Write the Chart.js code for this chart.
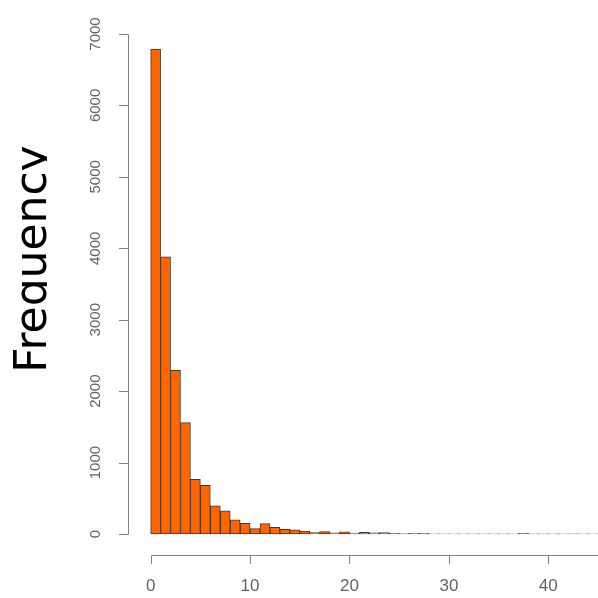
<!DOCTYPE html>
<html>
<head>
<meta charset="utf-8">
<script src="https://cdn.jsdelivr.net/npm/chart.js@4"></script>
<style>
  html, body { margin: 0; padding: 0; background: #fff; }
  #wrap { width: 598px; height: 598px; }
</style>
</head>
<body>
<div id="wrap"><canvas id="myChart" width="598" height="598"></canvas></div>
<script>
// histogram bins (left edge, width 1) and their counts
const bins = [0,1,2,3,4,5,6,7,8,9,10,11,12,13,14,15,16,17,18,19,20,21,22,23,24,25,26,27,28,29,30,31,32,33,34,35,36,37,38,39,40,41,42,43,44];
const counts = [6790,3880,2290,1560,765,680,395,325,200,150,75,145,95,65,60,42,20,35,18,32,12,22,18,20,8,5,10,8,4,3,3,2,3,2,2,3,2,8,4,2,2,2,1,2,3];
const xTicks = [0,10,20,30,40];
const yTicks = [0,1000,2000,3000,4000,5000,6000,7000];
const yTitle = 'Frequency';

const ctx = document.getElementById('myChart').getContext('2d');

// R style axes drawn from the chart's own scales
const rAxes = {
    id: 'rAxes',
    afterDraw(chart) {
        const c = chart.ctx;
        const x = chart.scales.x;
        const y = chart.scales.y;
        const axisX = 128;   // y axis line position
        const axisY = 555;   // x axis line position

        c.save();
        c.strokeStyle = '#808080';
        c.lineWidth = 1;

        // y axis
        const yTop = Math.round(y.getPixelForValue(yTicks[yTicks.length - 1]));
        const yBot = Math.round(y.getPixelForValue(yTicks[0]));
        c.beginPath();
        c.moveTo(axisX + 0.5, yTop + 0.5);
        c.lineTo(axisX + 0.5, yBot + 0.5);
        yTicks.forEach(v => {
            const py = Math.round(y.getPixelForValue(v)) + 0.5;
            c.moveTo(axisX + 0.5, py);
            c.lineTo(axisX - 9, py);
        });
        c.stroke();

        c.fillStyle = '#636363';
        c.font = '15px "Liberation Sans", Arial, sans-serif';
        c.textAlign = 'center';
        c.textBaseline = 'middle';
        yTicks.forEach(v => {
            const py = y.getPixelForValue(v);
            c.save();
            c.translate(95.5, py);
            c.rotate(-Math.PI / 2);
            c.fillText(String(v), 0, 0);
            c.restore();
        });

        // x axis
        const xLeft = Math.round(x.getPixelForValue(xTicks[0]));
        c.beginPath();
        c.moveTo(xLeft + 0.5, axisY + 0.5);
        c.lineTo(chart.width, axisY + 0.5);
        xTicks.forEach(v => {
            const px = Math.round(x.getPixelForValue(v)) + 0.5;
            c.moveTo(px, axisY + 0.5);
            c.lineTo(px, axisY + 9);
        });
        c.stroke();

        c.font = '17px "Liberation Sans", Arial, sans-serif';
        xTicks.forEach(v => {
            c.fillText(String(v), x.getPixelForValue(v), 586);
        });

        // big axis title, descenders cut off like the source
        c.beginPath();
        c.rect(0, 0, 47, chart.height);
        c.clip();
        c.fillStyle = '#000';
        c.font = '44px "DejaVu Sans", sans-serif';
        c.textAlign = 'center';
        c.textBaseline = 'alphabetic';
        c.translate(46, 259);
        c.rotate(-Math.PI / 2);
        c.fillText(yTitle, 0, 0);
        c.restore();
    }
};

const data = {
    datasets: [{
        data: counts.map((n, i) => ({ x: bins[i] + 0.5, y: n })),
        backgroundColor: '#ff6600',
        borderColor: '#4a3426',
        borderWidth: 1,
        borderSkipped: false,
        barPercentage: 1,
        categoryPercentage: 1
    }]
};

const myChart = new Chart(ctx, {
    type: 'bar',
    data: data,
    options: {
        responsive: false,
        animation: false,
        devicePixelRatio: 1,
        plugins: {
            legend: { display: false },
            tooltip: { enabled: false }
        },
        layout: {
            padding: { left: 128, right: 0, top: 20, bottom: 43 }
        },
        scales: {
            x: {
                type: 'linear',
                display: false,
                min: -2.28,
                max: 45,
                offset: false
            },
            y: {
                display: false,
                min: -294,
                max: 7196
            }
        }
    },
    plugins: [rAxes]
});
</script>
</body>
</html>
